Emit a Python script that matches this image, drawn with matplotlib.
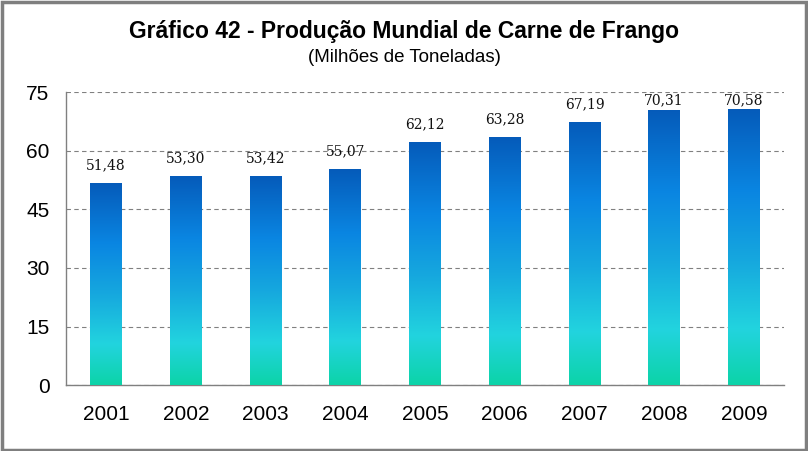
import matplotlib.pyplot as plt
import numpy as np
from matplotlib.colors import LinearSegmentedColormap
from matplotlib.patches import Rectangle

anos = ["2001", "2002", "2003", "2004", "2005", "2006", "2007", "2008", "2009"]
producao = [51.48, 53.30, 53.42, 55.07, 62.12, 63.28, 67.19, 70.31, 70.58]
yticks = [0, 15, 30, 45, 60, 75]

# gradient from bottom (teal) to top (dark blue)
grad = LinearSegmentedColormap.from_list("g", [
    (0.0, "#0CD3A8"), (0.2, "#22D4DE"), (0.45, "#16A8DE"),
    (0.7, "#0A86E2"), (1.0, "#055BBA")])

fig = plt.figure(figsize=(8.08, 4.51), dpi=100)
ax = fig.add_axes([0.082, 0.146, 0.888, 0.65])

x = np.arange(len(anos))
w = 0.4
g = np.linspace(0, 1, 256).reshape(-1, 1)
for xi, v in zip(x, producao):
    ax.imshow(g, cmap=grad, origin="lower", aspect="auto",
              extent=[xi - w / 2, xi + w / 2, 0, v], zorder=3)
    ax.text(xi, min(v + 4.7, 72.8), f"{v:.2f}".replace(".", ","), ha="center", va="center",
            fontsize=10, family="DejaVu Serif", color="#111111", zorder=4)

ax.set_xlim(-0.5, len(anos) - 0.5)
ax.set_ylim(0, 75)
ax.set_yticks(yticks)
ax.set_xticks(x)
ax.set_xticklabels(anos)
ax.tick_params(length=0, labelsize=15, pad=14)
ax.tick_params(axis="y", pad=12)
for t in ax.get_yticklabels() + ax.get_xticklabels():
    t.set_family("Liberation Sans")
ax.yaxis.grid(True, linestyle=(0, (4, 3)), color="#808080", linewidth=0.8, zorder=0)
ax.set_axisbelow(True)
for s in ["top", "right"]:
    ax.spines[s].set_visible(False)
for s in ["left", "bottom"]:
    ax.spines[s].set_color("#808080")
    ax.spines[s].set_linewidth(1.0)

fig.text(0.5, 0.93, "Gráfico 42 - Produção Mundial de Carne de Frango", ha="center", va="center",
         fontsize=16.5, fontweight="bold", family="Liberation Sans")
fig.text(0.5, 0.872, "(Milhões de Toneladas)", ha="center", va="center",
         fontsize=13.5, family="Liberation Sans")

fig.patches.append(Rectangle((0.002, 0.003), 0.995, 0.993, transform=fig.transFigure,
                             fill=False, edgecolor="#7f7f7f", linewidth=2.5))

fig.savefig("out.png", dpi=100)
